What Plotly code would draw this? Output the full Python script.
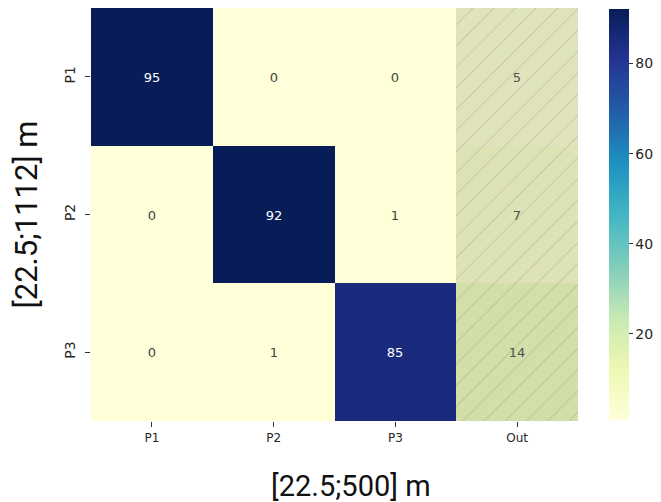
import plotly.graph_objects as go

x_labels = ["P1", "P2", "P3", "Out"]
y_labels = ["P1", "P2", "P3"]
values = [
    [95, 0, 0, 5],
    [0, 92, 1, 7],
    [0, 1, 85, 14],
]
hatched_columns = ["Out"]
colorbar_ticks = [20, 40, 60, 80]
x_title = "[22.5;500] m"
y_title = "[22.5;1112] m"

fig = go.Figure()
fig.add_trace(go.Heatmap(
    z=values, x=x_labels, y=y_labels,
    colorscale="YlGnBu", zmin=0.8, zmax=92,
    texttemplate="%{z}", textfont=dict(family="DejaVu Sans", size=13),
    xgap=0, ygap=0, hoverinfo="skip",
    colorbar=dict(
        x=1.0637, xanchor="left", thickness=20, len=0.995, lenmode="fraction",
        y=0.4988, yanchor="middle", outlinewidth=0, xpad=0, ypad=0,
        tickvals=colorbar_ticks, ticks="outside", ticklen=4, tickwidth=1,
        tickcolor="#333", tickfont=dict(family="DejaVu Sans", size=14, color="#262626"),
    ),
))

fig.add_trace(go.Bar(
    x=hatched_columns, y=[1] * len(hatched_columns), width=1,
    xaxis="x", yaxis="y2",
    marker=dict(
        color="rgba(128,128,128,0.2)", line=dict(width=0),
        pattern=dict(shape="/", size=15, solidity=0.07, fillmode="overlay",
                     fgcolor="rgba(110,110,110,0.5)"),
    ),
    hoverinfo="skip", showlegend=False,
))

# the page body adds an 8px offset, so the figure is 8px smaller on each side
fig.update_layout(
    width=653, height=494,
    margin=dict(l=83, r=83, t=0, b=81, autoexpand=False),
    paper_bgcolor="white", plot_bgcolor="white",
    showlegend=False,
    xaxis=dict(
        categoryorder="array", categoryarray=x_labels,
        showgrid=False, zeroline=False, ticks="outside", ticklen=5, tickcolor="#333",
        ticklabelstandoff=1,
        tickfont=dict(family="DejaVu Sans", size=12, color="#262626"),
        range=[-0.5, 3.5], automargin=False,
    ),
    yaxis=dict(
        categoryorder="array", categoryarray=y_labels, autorange="reversed",
        showgrid=False, zeroline=False, ticks="outside", ticklen=5, tickcolor="#333",
        tickangle=-90, automargin=False, ticklabelstandoff=4,
        tickfont=dict(family="DejaVu Sans", size=14, color="#262626"),
        title=dict(text=y_title, font=dict(family="Roboto", size=31, color="#111"), standoff=16),
    ),
    yaxis2=dict(overlaying="y", range=[0, 1], visible=False, fixedrange=True),
    bargap=0,
    annotations=[dict(
        text=x_title, xref="paper", yref="paper", x=0.534, y=-0.157,
        xanchor="center", yanchor="middle", showarrow=False,
        font=dict(family="Roboto", size=29, color="#111"),
    )],
)

fig.write_html("out.html")
